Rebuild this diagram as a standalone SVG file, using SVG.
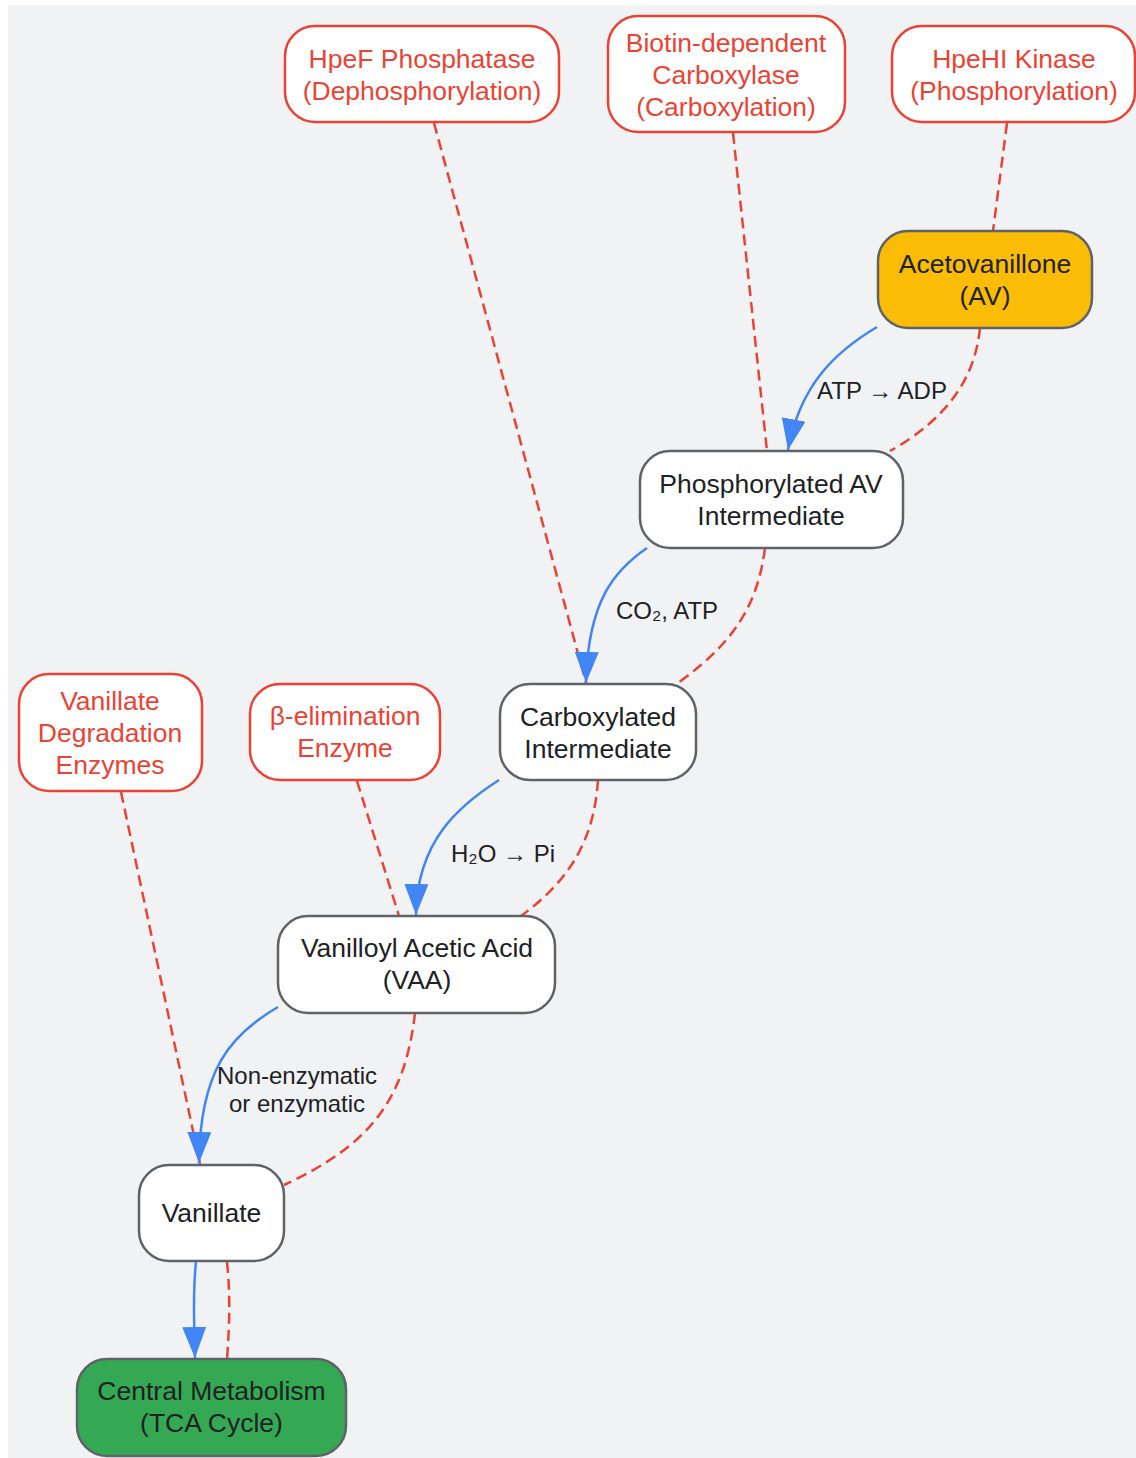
<svg xmlns="http://www.w3.org/2000/svg" width="1136" height="1458" viewBox="0 0 1136 1458">
<style>
.bg{fill:#f1f2f4}
.node rect{fill:#ffffff;stroke:#5f6368;stroke-width:2.5}
.enz rect{fill:#ffffff;stroke:#ea4335;stroke-width:2.5}
.node text{fill:#202124}
.enz text{fill:#ea4335}
text{font-family:"Liberation Sans",Arial,sans-serif;font-size:26.5px;text-anchor:middle}
.lbl{font-size:24px;fill:#202124}
.flow{fill:none;stroke:#4285f4;stroke-width:2.5}
.reg{fill:none;stroke:#ea4335;stroke-width:2.5;stroke-dasharray:11 6}
</style>
<defs>
<marker id="arr" markerUnits="userSpaceOnUse" markerWidth="31" markerHeight="24" refX="31" refY="12" orient="auto">
<path d="M0,0 L31,12 L0,24 z" fill="#4285f4"/>
</marker>
</defs>
<rect x="0" y="0" width="1136" height="1458" fill="#ffffff"/>
<rect class="bg" x="8" y="5" width="1128" height="1453"/>

<g id="connectors">
<path class="reg" d="M434,123 L586,683"/>
<path class="reg" d="M733,133 L767,451"/>
<path class="reg" d="M1007,123 L993,231"/>
<path class="reg" d="M357,781 L399,916"/>
<path class="reg" d="M121,792 L200,1164"/>
<path class="reg" d="M980,328 C975,380 945,420 890,451"/>
<path class="reg" d="M765,548 C757,610 730,645 678,683"/>
<path class="reg" d="M598,780 C594,840 570,880 521,916"/>
<path class="reg" d="M415,1013 C405,1100 370,1145 284,1185"/>
<path class="reg" d="M227,1262 C230,1290 230,1320 227,1359"/>
<path class="flow" marker-end="url(#arr)" d="M877,327 C835,352 800,385 788,450"/>
<path class="flow" marker-end="url(#arr)" d="M647,548 C615,570 588,600 586,683"/>
<path class="flow" marker-end="url(#arr)" d="M499,780 C460,805 417,840 416,915"/>
<path class="flow" marker-end="url(#arr)" d="M278,1007 C230,1035 200,1070 199,1163"/>
<path class="flow" marker-end="url(#arr)" d="M196,1262 C193,1290 194,1320 195,1358"/>
<text class="lbl" x="882" y="399">ATP → ADP</text>
<text class="lbl" x="667" y="619">CO₂, ATP</text>
<text class="lbl" x="503" y="862">H₂O → Pi</text>
<text class="lbl" x="297" y="1084">Non-enzymatic</text>
<text class="lbl" x="297" y="1112">or enzymatic</text>
</g>

<g id="hpef" class="enz">
<rect x="285" y="26" width="274" height="96" rx="30"/>
<text x="422" y="68">HpeF Phosphatase</text>
<text x="422" y="100">(Dephosphorylation)</text>
</g>
<g id="biotin" class="enz">
<rect x="608" y="16" width="237" height="116" rx="30"/>
<text x="726" y="52">Biotin-dependent</text>
<text x="726" y="84">Carboxylase</text>
<text x="726" y="116">(Carboxylation)</text>
</g>
<g id="hpehi" class="enz">
<rect x="892" y="26" width="243" height="96" rx="30"/>
<text x="1014" y="68">HpeHI Kinase</text>
<text x="1014" y="100">(Phosphorylation)</text>
</g>
<g id="av" class="node">
<rect x="878" y="231" width="214" height="97" rx="30" style="fill:#fbbc05"/>
<text x="985" y="273">Acetovanillone</text>
<text x="985" y="305">(AV)</text>
</g>
<g id="phos" class="node">
<rect x="640" y="451" width="263" height="97" rx="30"/>
<text x="771" y="493">Phosphorylated AV</text>
<text x="771" y="525">Intermediate</text>
</g>
<g id="carb" class="node">
<rect x="500" y="684" width="196" height="96" rx="30"/>
<text x="598" y="726">Carboxylated</text>
<text x="598" y="758">Intermediate</text>
</g>
<g id="vaa" class="node">
<rect x="278" y="916" width="277" height="97" rx="30"/>
<text x="417" y="957">Vanilloyl Acetic Acid</text>
<text x="417" y="989">(VAA)</text>
</g>
<g id="vanillate" class="node">
<rect x="139" y="1165" width="145" height="96" rx="30"/>
<text x="211.5" y="1222">Vanillate</text>
</g>
<g id="central" class="node">
<rect x="77" y="1359" width="269" height="97" rx="30" style="fill:#34a853"/>
<text x="211.5" y="1400">Central Metabolism</text>
<text x="211.5" y="1432">(TCA Cycle)</text>
</g>
<g id="vdeg" class="enz">
<rect x="19" y="674" width="183" height="117" rx="30"/>
<text x="110" y="710">Vanillate</text>
<text x="110" y="742">Degradation</text>
<text x="110" y="774">Enzymes</text>
</g>
<g id="beta" class="enz">
<rect x="250" y="684" width="190" height="96" rx="30"/>
<text x="345" y="725">β-elimination</text>
<text x="345" y="757">Enzyme</text>
</g>
</svg>
